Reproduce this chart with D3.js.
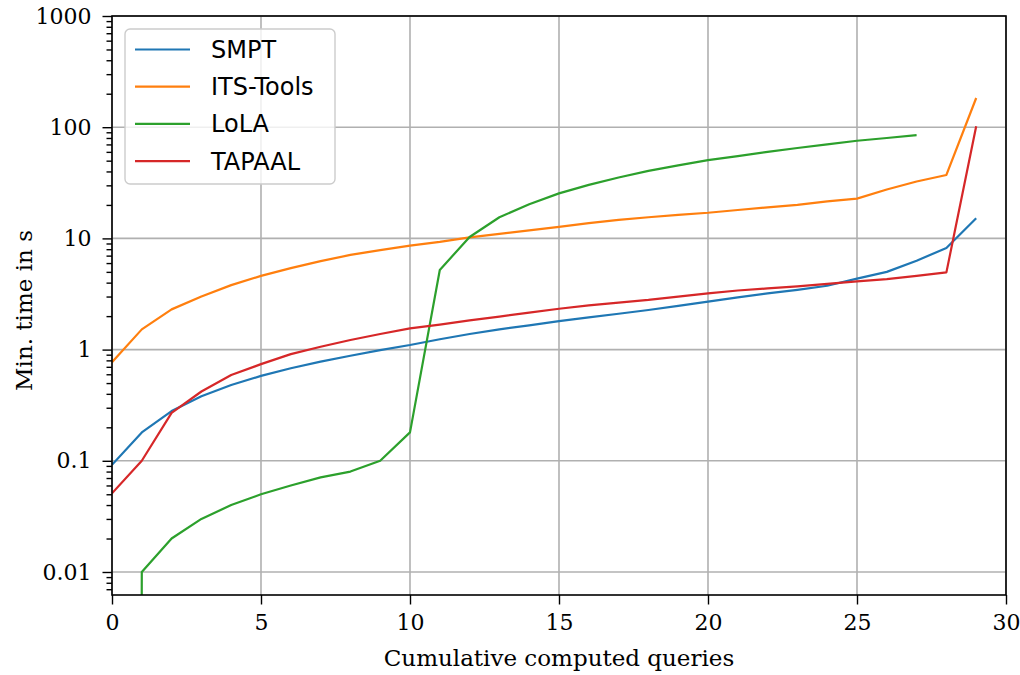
<!DOCTYPE html>
<html lang="en">
<head>
    <meta charset="UTF-8">
    <title>Min. time per tool</title>
    <script src="https://d3js.org/d3.v7.min.js"></script>
    <style>
        body { margin: 0; background: #fff; }
        .tick text { font-family: "DejaVu Serif", serif; font-size: 22px; fill: #000; }
        .axis-label { font-family: "DejaVu Serif", serif; font-size: 23px; fill: #000; }
        .legend text { font-family: "DejaVu Sans", sans-serif; font-size: 24px; fill: #000; }
        .grid line { stroke: #b0b0b0; stroke-width: 1.6px; }
        .series { fill: none; stroke-width: 2.2px; stroke-linejoin: round; }
    </style>
</head>
<body>
    <svg width="1020" height="675"></svg>

    <script>
        // Data (x = cumulative computed queries)
        const smpt = [0.092, 0.18, 0.28, 0.38, 0.48, 0.58, 0.68, 0.78, 0.88, 0.99,
                      1.1, 1.24, 1.38, 1.52, 1.65, 1.8, 1.95, 2.1, 2.27, 2.47,
                      2.7, 2.95, 3.2, 3.45, 3.75, 4.35, 5.0, 6.3, 8.2, 15.2];
        const itsTools = [0.77, 1.52, 2.3, 3.0, 3.8, 4.6, 5.4, 6.25, 7.1, 7.85,
                          8.6, 9.3, 10.2, 11, 11.8, 12.7, 13.7, 14.7, 15.5, 16.3,
                          17, 18, 19, 20, 21.5, 22.8, 27.5, 32.5, 37.2, 183];
        const lola = [0, 0.01, 0.02, 0.03, 0.04, 0.05, 0.06, 0.071, 0.08, 0.1,
                      0.18, 5.2, 10.3, 15.5, 20.3, 25.4, 30.3, 35.3, 40.5, 45.3,
                      50.5, 55, 60, 65, 70, 75.5, 80, 85];
        const tapaal = [0.051, 0.1, 0.27, 0.42, 0.59, 0.74, 0.91, 1.06, 1.22, 1.38,
                        1.55, 1.68, 1.83, 1.98, 2.15, 2.33, 2.5, 2.65, 2.8, 3.0,
                        3.2, 3.4, 3.55, 3.7, 3.9, 4.1, 4.3, 4.6, 4.95, 102];

        const seriesNames = ["SMPT", "ITS-Tools", "LoLA", "TAPAAL"];
        const seriesColors = ["#1f77b4", "#ff7f0e", "#2ca02c", "#d62728"];
        const seriesValues = [smpt, itsTools, lola, tapaal];

        const xTicks = [0, 5, 10, 15, 20, 25, 30];
        const yTicks = [0.01, 0.1, 1, 10, 100, 1000];
        const yTickLabels = ["0.01", "0.1", "1", "10", "100", "1000"];

        // Plot area
        const margin = { top: 16, right: 14, bottom: 80, left: 112 };
        const width = 1020 - margin.left - margin.right;
        const height = 675 - margin.top - margin.bottom;

        const svg = d3.select("svg")
          .append("g")
            .attr("transform", `translate(${margin.left},${margin.top})`);

        const xScale = d3.scaleLinear()
            .domain([0, 30])
            .range([0, width]);

        const yScale = d3.scaleLog()
            .domain([0.00621, 1000])
            .range([height, 0]);

        svg.append("defs").append("clipPath")
            .attr("id", "plot-clip")
          .append("rect")
            .attr("width", width)
            .attr("height", height);

        // Grid
        const grid = svg.append("g").attr("class", "grid");
        grid.selectAll(".gx")
            .data(xTicks)
          .enter().append("line")
            .attr("x1", d => xScale(d)).attr("x2", d => xScale(d))
            .attr("y1", 0).attr("y2", height);
        grid.selectAll(".gy")
            .data(yTicks)
          .enter().append("line")
            .attr("x1", 0).attr("x2", width)
            .attr("y1", d => yScale(d)).attr("y2", d => yScale(d));

        // Lines (values <= 0 are clipped to a tiny number, like matplotlib does)
        const line = d3.line()
            .x((d, i) => xScale(i))
            .y(d => yScale(Math.max(d, 1e-100)));

        svg.append("g")
            .attr("clip-path", "url(#plot-clip)")
          .selectAll(".series")
            .data(seriesValues)
          .enter().append("path")
            .attr("class", "series")
            .attr("stroke", (d, i) => seriesColors[i])
            .attr("d", line);

        // X axis
        svg.append("g")
            .attr("transform", `translate(0,${height})`)
            .call(d3.axisBottom(xScale).tickValues(xTicks).tickSize(9.5).tickPadding(10));

        // Y axis: minor ticks first, then major ones with labels
        const minorTicks = [];
        for (let e = -3; e < 3; e++) {
            for (let k = 2; k <= 9; k++) {
                const v = k * Math.pow(10, e);
                if (v > 0.00621 && v < 1000) minorTicks.push(v);
            }
        }
        svg.append("g")
            .call(d3.axisLeft(yScale).tickValues(minorTicks).tickSize(5.5).tickFormat(""));

        svg.append("g")
            .call(d3.axisLeft(yScale).tickValues(yTicks).tickSize(9.5).tickPadding(11)
                .tickFormat((d, i) => yTickLabels[i]));

        svg.selectAll(".tick line").attr("stroke", "#000").attr("stroke-width", 1.4);
        svg.selectAll(".domain").remove();

        // Frame
        svg.append("rect")
            .attr("width", width)
            .attr("height", height)
            .attr("fill", "none")
            .attr("stroke", "#000")
            .attr("stroke-width", 1.6);

        // Axis labels
        svg.append("text")
            .attr("class", "axis-label")
            .attr("x", width / 2)
            .attr("y", height + 71)
            .attr("text-anchor", "middle")
            .text("Cumulative computed queries");

        svg.append("text")
            .attr("class", "axis-label")
            .attr("transform", `translate(-80,${height / 2 + 5}) rotate(-90)`)
            .attr("text-anchor", "middle")
            .text("Min. time in s");

        // Legend
        const legend = svg.append("g")
            .attr("class", "legend")
            .attr("transform", "translate(13,13)");
        legend.append("rect")
            .attr("width", 210)
            .attr("height", 155)
            .attr("rx", 5)
            .attr("fill", "#fff")
            .attr("fill-opacity", 0.8)
            .attr("stroke", "#cccccc")
            .attr("stroke-width", 1.4);
        const rows = legend.selectAll(".row")
            .data(seriesNames)
          .enter().append("g")
            .attr("transform", (d, i) => `translate(0,${20.5 + i * 37.2})`);
        rows.append("line")
            .attr("x1", 10).attr("x2", 65)
            .attr("stroke", (d, i) => seriesColors[i])
            .attr("stroke-width", 2.2);
        rows.append("text")
            .attr("x", 86)
            .attr("dy", "0.35em")
            .text(d => d);
    </script>
</body>
</html>
